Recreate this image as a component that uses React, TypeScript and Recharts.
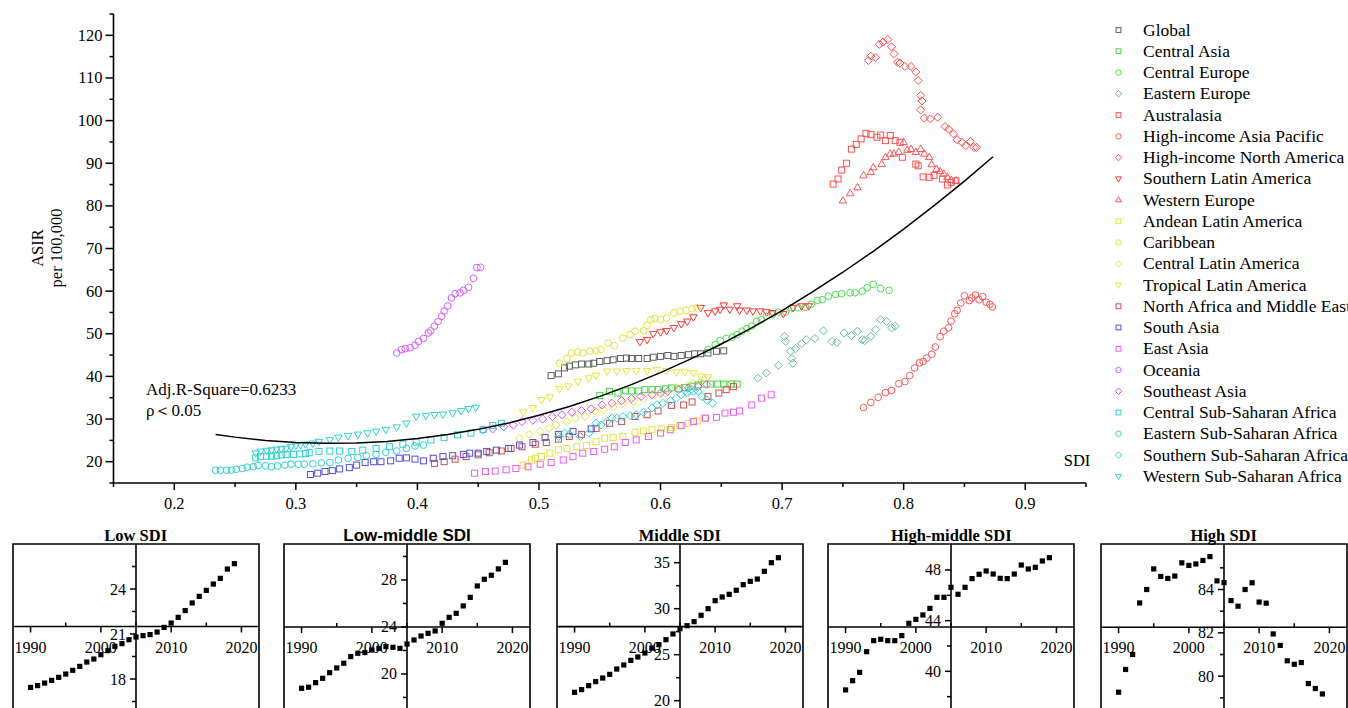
import React from 'react';
import { ScatterChart, Scatter, XAxis, YAxis, ReferenceLine, ReferenceArea } from 'recharts';

type P = [number, number];
const SERIF = '"Liberation Serif", "Times New Roman", Times, serif';
const SANS = '"Liberation Sans", Arial, sans-serif';

// ---------- main chart data (SDI, ASIR per 100,000) ----------
const globalPts: P[] = [[0.510,40.2],[0.516,40.6],[0.521,42.0],[0.525,42.4],[0.530,42.7],[0.535,42.9],[0.541,42.9],[0.545,43.1],[0.550,43.5],[0.556,43.7],[0.561,43.9],[0.567,44.2],[0.572,44.3],[0.576,44.2],[0.582,44.2],[0.589,44.2],[0.594,44.5],[0.600,44.7],[0.606,44.9],[0.611,44.7],[0.617,44.9],[0.623,45.1],[0.628,45.3],[0.633,45.3],[0.639,45.5],[0.646,45.9],[0.652,46.0]];
const centralAsia: P[] = [[0.550,35.5],[0.558,36.5],[0.565,36.1],[0.571,36.6],[0.576,36.6],[0.582,36.6],[0.587,36.9],[0.593,36.9],[0.598,36.9],[0.604,37.1],[0.609,37.3],[0.615,37.1],[0.620,37.4],[0.626,37.7],[0.631,38.0],[0.636,38.2],[0.641,38.2],[0.647,38.2],[0.652,38.2],[0.658,38.2],[0.663,38.2]];
const centralEurope: P[] = [[0.639,46.3],[0.645,47.5],[0.649,48.4],[0.654,48.9],[0.659,49.2],[0.663,49.8],[0.667,50.6],[0.671,51.2],[0.675,51.8],[0.679,52.9],[0.683,53.3],[0.687,54.1],[0.692,54.5],[0.697,55.1],[0.703,55.1],[0.708,56.1],[0.713,56.1],[0.719,56.2],[0.724,56.9],[0.729,57.8],[0.733,58.0],[0.738,58.8],[0.744,59.2],[0.749,59.4],[0.756,59.6],[0.760,59.6],[0.766,60.0],[0.770,60.8],[0.775,61.6],[0.781,60.6],[0.788,60.2]];
const easternEurope: P[] = [[0.680,39.6],[0.687,40.8],[0.697,42.6],[0.702,49.4],[0.703,48.2],[0.707,45.9],[0.709,43.1],[0.708,44.2],[0.711,46.5],[0.716,47.7],[0.720,48.6],[0.727,48.9],[0.734,50.7],[0.741,48.2],[0.745,48.0],[0.751,50.2],[0.757,49.6],[0.762,50.6],[0.766,48.6],[0.768,48.4],[0.773,49.4],[0.777,51.0],[0.781,53.3],[0.786,52.9],[0.790,51.4],[0.793,51.8]];
const australasia: P[] = [[0.742,85.1],[0.746,86.3],[0.749,88.4],[0.753,90.0],[0.757,93.3],[0.761,94.4],[0.765,95.7],[0.769,97.0],[0.773,96.7],[0.778,96.1],[0.781,96.6],[0.785,95.3],[0.789,96.5],[0.793,95.3],[0.797,94.9],[0.799,91.4],[0.810,89.8],[0.812,89.4],[0.816,86.8],[0.821,86.7],[0.825,87.1],[0.832,86.3],[0.836,84.9],[0.839,85.5],[0.843,85.9]];
const hiAsiaPacific: P[] = [[0.767,32.7],[0.773,33.9],[0.779,35.1],[0.785,36.2],[0.790,36.7],[0.796,38.3],[0.801,38.8],[0.805,40.2],[0.809,42.0],[0.813,43.2],[0.816,43.5],[0.819,44.3],[0.823,45.2],[0.826,46.9],[0.830,49.3],[0.833,50.6],[0.837,51.4],[0.839,53.0],[0.842,54.7],[0.844,55.5],[0.847,57.2],[0.850,58.9],[0.854,57.8],[0.856,58.4],[0.859,59.1],[0.862,58.0],[0.865,58.7],[0.868,57.4],[0.871,56.9],[0.873,56.3]];
const hiNorthAmerica: P[] = [[0.771,114.1],[0.773,115.1],[0.777,114.8],[0.780,117.9],[0.783,118.4],[0.787,119.0],[0.790,117.3],[0.792,115.7],[0.795,113.7],[0.797,113.5],[0.801,112.7],[0.806,112.7],[0.810,111.4],[0.812,109.4],[0.814,105.9],[0.815,104.6],[0.814,102.5],[0.817,100.6],[0.822,100.4],[0.828,100.8],[0.834,98.6],[0.837,98.0],[0.841,96.9],[0.844,95.5],[0.848,94.9],[0.851,94.1],[0.855,95.1],[0.858,93.7],[0.860,93.7]];
const southernLatAm: P[] = [[0.583,48.1],[0.589,48.6],[0.594,50.0],[0.600,50.4],[0.605,50.7],[0.611,51.4],[0.617,52.3],[0.622,52.9],[0.627,53.9],[0.633,56.1],[0.639,54.9],[0.645,55.3],[0.649,55.7],[0.652,56.7],[0.657,55.7],[0.663,56.5],[0.665,55.5],[0.671,55.5],[0.676,55.3],[0.682,55.3],[0.687,55.1],[0.692,54.9],[0.701,54.7],[0.709,56.1],[0.716,56.5],[0.722,56.5]];
const westernEurope: P[] = [[0.750,81.2],[0.756,82.9],[0.762,84.3],[0.767,87.1],[0.773,87.9],[0.775,89.0],[0.782,89.8],[0.785,91.4],[0.789,92.2],[0.792,92.2],[0.796,92.6],[0.800,94.9],[0.803,93.1],[0.806,93.3],[0.810,92.6],[0.814,93.3],[0.817,92.2],[0.821,91.4],[0.823,89.7],[0.827,88.6],[0.830,88.1],[0.833,87.5],[0.836,86.7],[0.839,86.0],[0.843,85.9]];
const andeanLatAm: P[] = [[0.487,19.2],[0.494,20.4],[0.497,20.8],[0.502,21.2],[0.509,22.0],[0.516,22.8],[0.523,23.1],[0.531,23.5],[0.539,23.8],[0.547,24.7],[0.554,25.5],[0.561,25.7],[0.569,25.9],[0.579,26.9],[0.586,27.2],[0.593,27.5],[0.601,27.7],[0.609,28.0],[0.616,28.4],[0.623,29.0],[0.630,29.6],[0.636,30.2]];
const caribbean: P[] = [[0.517,43.1],[0.523,44.2],[0.527,45.5],[0.532,45.7],[0.536,45.5],[0.542,45.9],[0.547,46.0],[0.551,46.3],[0.557,47.8],[0.562,47.2],[0.569,49.0],[0.575,49.8],[0.579,50.6],[0.586,50.7],[0.589,52.0],[0.592,53.3],[0.595,53.6],[0.600,53.3],[0.605,53.7],[0.611,54.9],[0.616,55.3],[0.621,55.5],[0.626,55.9],[0.630,56.1]];
const centralLatAm: P[] = [[0.484,25.5],[0.492,26.4],[0.501,27.1],[0.508,27.8],[0.514,28.6],[0.523,29.4],[0.530,30.2],[0.538,30.6],[0.546,31.9],[0.553,32.2],[0.561,32.9],[0.569,33.7],[0.578,34.1],[0.586,34.9],[0.595,35.7],[0.604,36.1],[0.613,37.3],[0.622,37.7],[0.627,38.4],[0.633,38.8]];
const tropicalLatAm: P[] = [[0.487,31.6],[0.495,32.6],[0.502,34.5],[0.509,35.1],[0.517,37.1],[0.524,37.7],[0.532,38.8],[0.541,39.6],[0.547,40.2],[0.556,41.2],[0.564,41.2],[0.572,41.3],[0.580,41.3],[0.589,41.3],[0.597,41.6],[0.605,41.3],[0.613,41.0],[0.620,41.0],[0.627,40.8],[0.633,40.0],[0.639,39.8]];
const northAfricaME: P[] = [[0.414,19.6],[0.422,20.0],[0.431,20.6],[0.440,21.2],[0.450,21.6],[0.459,22.1],[0.469,22.5],[0.477,23.1],[0.486,23.5],[0.497,24.1],[0.506,24.5],[0.516,25.3],[0.525,25.9],[0.535,26.4],[0.547,27.8],[0.558,29.0],[0.568,29.4],[0.579,30.6],[0.589,31.0],[0.598,31.9],[0.609,33.2],[0.619,33.3],[0.626,34.0],[0.639,35.3],[0.648,36.1],[0.654,36.9],[0.660,37.6]];
const southAsia: P[] = [[0.312,17.0],[0.318,17.3],[0.324,17.7],[0.330,17.9],[0.336,18.3],[0.344,18.6],[0.350,19.2],[0.357,19.8],[0.364,20.0],[0.370,20.0],[0.378,20.2],[0.385,20.8],[0.391,20.9],[0.398,20.6],[0.405,20.2],[0.413,20.8],[0.421,21.2],[0.429,21.4],[0.438,21.7],[0.443,22.0],[0.450,22.0],[0.457,22.4],[0.465,22.7],[0.475,23.1],[0.484,23.9],[0.495,24.5],[0.505,25.7],[0.516,26.4],[0.528,27.1],[0.543,27.7]];
const eastAsia: P[] = [[0.447,17.3],[0.456,17.7],[0.464,17.8],[0.473,18.1],[0.481,18.4],[0.491,18.8],[0.501,19.4],[0.510,19.8],[0.520,20.4],[0.528,21.2],[0.536,22.0],[0.545,22.4],[0.554,22.9],[0.562,23.5],[0.571,24.5],[0.580,25.1],[0.590,25.9],[0.600,26.7],[0.608,27.5],[0.617,28.5],[0.627,29.4],[0.637,30.2],[0.646,30.4],[0.653,31.4],[0.660,31.6],[0.665,31.9],[0.675,33.3],[0.683,34.9],[0.691,35.7]];
const oceania: P[] = [[0.383,45.5],[0.387,46.3],[0.390,46.5],[0.394,46.7],[0.398,47.3],[0.401,48.2],[0.405,48.9],[0.409,50.2],[0.411,50.7],[0.414,51.8],[0.417,52.9],[0.420,54.1],[0.422,55.3],[0.425,56.5],[0.428,58.4],[0.431,59.4],[0.435,59.6],[0.438,60.2],[0.442,60.9],[0.446,63.0],[0.449,65.5],[0.452,65.6]];
const southeastAsia: P[] = [[0.454,27.5],[0.462,27.7],[0.471,28.2],[0.479,28.6],[0.486,29.4],[0.495,29.7],[0.503,30.0],[0.511,30.6],[0.519,31.0],[0.527,31.6],[0.535,32.0],[0.543,32.4],[0.552,33.3],[0.560,33.7],[0.568,34.3],[0.576,34.8],[0.584,35.3],[0.593,35.7],[0.600,36.1],[0.606,36.5],[0.615,36.9],[0.623,37.3],[0.631,37.7],[0.638,38.1]];
const centralSSA: P[] = [[0.267,20.9],[0.271,21.2],[0.276,21.3],[0.280,21.3],[0.284,21.4],[0.288,21.6],[0.292,21.7],[0.298,21.7],[0.303,21.8],[0.308,21.9],[0.311,22.1],[0.319,22.4],[0.328,22.5],[0.336,22.5],[0.346,22.4],[0.355,22.7],[0.366,23.1],[0.377,23.5],[0.388,24.1],[0.399,24.6],[0.411,25.1],[0.422,25.7],[0.433,26.3],[0.444,26.7],[0.454,27.5],[0.462,28.5],[0.469,29.0]];
const easternSSA: P[] = [[0.234,18.0],[0.238,18.0],[0.243,18.0],[0.247,18.0],[0.251,18.2],[0.256,18.4],[0.260,18.7],[0.265,18.8],[0.269,19.1],[0.275,19.0],[0.280,18.8],[0.285,19.0],[0.291,19.2],[0.296,19.4],[0.302,19.4],[0.307,19.4],[0.314,19.5],[0.321,19.7],[0.328,19.8],[0.335,20.4],[0.343,20.8],[0.351,21.0],[0.358,21.4],[0.366,21.7],[0.374,22.2],[0.383,22.5],[0.391,23.1],[0.398,23.7],[0.405,23.9]];
const southernSSA: P[] = [[0.516,25.9],[0.521,26.7],[0.525,26.4],[0.534,25.9],[0.541,26.7],[0.547,29.0],[0.551,28.6],[0.556,29.4],[0.560,30.2],[0.564,30.2],[0.569,30.6],[0.575,30.8],[0.580,31.0],[0.586,31.6],[0.593,32.6],[0.597,33.3],[0.602,33.7],[0.608,34.3],[0.613,34.9],[0.617,35.7],[0.622,36.1],[0.624,36.6],[0.627,36.5],[0.631,36.5],[0.634,35.3],[0.638,34.5],[0.643,33.7]];
const westernSSA: P[] = [[0.267,22.0],[0.271,22.4],[0.276,22.6],[0.280,22.7],[0.284,22.9],[0.288,23.0],[0.292,23.1],[0.296,23.5],[0.300,23.8],[0.304,23.9],[0.308,24.1],[0.314,24.3],[0.319,24.7],[0.328,25.1],[0.335,25.7],[0.343,26.1],[0.351,26.4],[0.359,26.7],[0.366,27.1],[0.374,27.5],[0.383,28.1],[0.391,29.0],[0.399,30.6],[0.407,30.8],[0.414,31.0],[0.421,31.1],[0.429,31.4],[0.436,31.9],[0.442,32.4],[0.448,32.7]];

// fitted curve
const fitCurve: P[] = [[0.234,26.4],[0.25,25.76],[0.275,24.99],[0.30,24.5],[0.325,24.31],[0.35,24.39],[0.375,24.76],[0.40,25.41],[0.425,26.35],[0.45,27.58],[0.475,29.08],[0.50,30.87],[0.525,32.95],[0.55,35.31],[0.575,37.96],[0.60,40.88],[0.625,44.1],[0.65,47.6],[0.675,51.38],[0.70,55.45],[0.725,59.8],[0.75,64.43],[0.775,69.35],[0.80,74.56],[0.825,80.05],[0.85,85.82],[0.8735,91.51]];

const xTicks = [0.15,0.2,0.25,0.3,0.35,0.4,0.45,0.5,0.55,0.6,0.65,0.7,0.75,0.8,0.85,0.9,0.95];
const yTicks = [15,20,25,30,35,40,45,50,55,60,65,70,75,80,85,90,95,100,105,110,115,120,125];

type Kind = 'square' | 'circle' | 'diamond' | 'tdown' | 'tup';
const series: { name: string; kind: Kind; color: string; pts: P[] }[] = [
  { name: 'Global', kind: 'square', color: '#5f5f5f', pts: globalPts },
  { name: 'Central Asia', kind: 'square', color: '#3fd83f', pts: centralAsia },
  { name: 'Central Europe', kind: 'circle', color: '#4fdc4f', pts: centralEurope },
  { name: 'Eastern Europe', kind: 'diamond', color: '#5cbf8a', pts: easternEurope },
  { name: 'Australasia', kind: 'square', color: '#ff5050', pts: australasia },
  { name: 'High-income Asia Pacific', kind: 'circle', color: '#ff5555', pts: hiAsiaPacific },
  { name: 'High-income North America', kind: 'diamond', color: '#ff4848', pts: hiNorthAmerica },
  { name: 'Southern Latin America', kind: 'tdown', color: '#ff3838', pts: southernLatAm },
  { name: 'Western Europe', kind: 'tup', color: '#ff5555', pts: westernEurope },
  { name: 'Andean Latin America', kind: 'square', color: '#e4e43c', pts: andeanLatAm },
  { name: 'Caribbean', kind: 'circle', color: '#e4e43c', pts: caribbean },
  { name: 'Central Latin America', kind: 'diamond', color: '#e4e43c', pts: centralLatAm },
  { name: 'Tropical Latin America', kind: 'tdown', color: '#e4e43c', pts: tropicalLatAm },
  { name: 'North Africa and Middle East', kind: 'square', color: '#c85050', pts: northAfricaME },
  { name: 'South Asia', kind: 'square', color: '#4f4fdc', pts: southAsia },
  { name: 'East Asia', kind: 'square', color: '#ee5cee', pts: eastAsia },
  { name: 'Oceania', kind: 'circle', color: '#d65cff', pts: oceania },
  { name: 'Southeast Asia', kind: 'diamond', color: '#cc4cff', pts: southeastAsia },
  { name: 'Central Sub-Saharan Africa', kind: 'square', color: '#2ed0d0', pts: centralSSA },
  { name: 'Eastern Sub-Saharan Africa', kind: 'circle', color: '#2ed0d0', pts: easternSSA },
  { name: 'Southern Sub-Saharan Africa', kind: 'diamond', color: '#2ed0d0', pts: southernSSA },
  { name: 'Western Sub-Saharan Africa', kind: 'tdown', color: '#2ed0d0', pts: westernSSA },
];

// ---------- small panels (ASIR by year) ----------
const years = [1990,1991,1992,1993,1994,1995,1996,1997,1998,1999,2000,2001,2002,2003,2004,2005,2006,2007,2008,2009,2010,2011,2012,2013,2014,2015,2016,2017,2018,2019];
const lowSDI = [17.44,17.56,17.73,17.91,18.11,18.33,18.58,18.84,19.13,19.33,19.62,19.89,20.18,20.36,20.62,20.8,20.89,20.96,21.13,21.44,21.73,22.11,22.56,23.07,23.51,23.91,24.33,24.71,25.33,25.69];
const lowMiddleSDI = [18.78,18.87,19.26,19.63,20.11,20.51,20.91,21.48,21.76,21.82,22.04,22.18,22.33,22.27,22.18,22.55,22.89,23.23,23.46,23.66,24.31,24.82,25.16,25.79,26.52,27.49,28.06,28.4,28.94,29.5];
const middleSDI = [20.91,21.2,21.63,22.07,22.46,22.86,23.44,23.88,24.38,24.75,25.18,25.72,26.09,26.63,27.25,27.83,28.15,28.59,29.28,30.0,30.87,31.27,31.56,32.0,32.61,32.97,33.22,34.06,35.0,35.54];
const highMiddleSDI = [38.53,39.26,39.92,41.55,42.42,42.53,42.42,42.42,42.82,43.79,44.1,44.45,44.97,45.84,45.84,46.63,46.08,46.63,47.32,47.66,47.92,47.68,47.34,47.32,47.68,48.39,48.08,48.21,48.71,48.97];
const highSDI = [79.26,80.31,81.0,83.38,84.0,84.95,84.6,84.51,84.62,85.23,85.11,85.18,85.34,85.52,84.4,84.32,83.49,83.23,84.0,84.31,83.42,83.37,81.95,81.42,80.71,80.55,80.63,79.66,79.43,79.18];
const yearTicks = [1990,1995,2000,2005,2010,2015,2020];

function Marker({ kind, cx, cy, color, s }: { kind: Kind; cx: number; cy: number; color: string; s: number }) {
  const common = { fill: 'none', stroke: color, strokeWidth: 1 };
  if (kind === 'square') return <rect x={cx - s} y={cy - s} width={2 * s} height={2 * s} {...common} />;
  if (kind === 'circle') return <circle cx={cx} cy={cy} r={s * 1.12} {...common} />;
  if (kind === 'diamond') {
    const d = s * 1.35;
    return <polygon points={`${cx},${cy - d} ${cx + d},${cy} ${cx},${cy + d} ${cx - d},${cy}`} {...common} />;
  }
  const h = s * 1.25;
  if (kind === 'tdown')
    return <polygon points={`${cx - h},${cy - h * 0.62} ${cx + h},${cy - h * 0.62} ${cx},${cy + h * 1.1}`} {...common} />;
  return <polygon points={`${cx - h},${cy + h * 0.62} ${cx + h},${cy + h * 0.62} ${cx},${cy - h * 1.1}`} {...common} />;
}

const MainXTick = (props: any) => {
  const { x, y, payload } = props;
  const v = payload.value as number;
  const major = Math.abs(v * 10 - Math.round(v * 10)) < 1e-6;
  return (
    <g>
      <line x1={x} x2={x} y1={y} y2={y + (major ? 7 : 4)} stroke="#000" strokeWidth={1.5} />
      {major && (
        <text x={x} y={y + 26} textAnchor="middle" fontFamily={SERIF} fontSize={16.5} fill="#000">
          {v.toFixed(1)}
        </text>
      )}
    </g>
  );
};

const MainYTick = (props: any) => {
  const { x, y, payload } = props;
  const v = payload.value as number;
  const major = v % 10 === 0;
  return (
    <g>
      <line x1={x - (major ? 8 : 4)} x2={x} y1={y} y2={y} stroke="#000" strokeWidth={1.5} />
      {major && v < 125 && (
        <text x={x - 11} y={y + 5.5} textAnchor="end" fontFamily={SERIF} fontSize={16.5} fill="#000">
          {v}
        </text>
      )}
    </g>
  );
};

function MainChart() {
  return (
    <div style={{ position: 'absolute', left: 0, top: 0 }}>
      <ScatterChart width={1348} height={520} margin={{ top: 14, right: 262, bottom: 7, left: 53.5 }}>
        <XAxis type="number" dataKey="x" domain={[0.15, 0.95]} ticks={xTicks} interval={0} allowDataOverflow
          height={30} tickSize={0} tickMargin={0} tickLine={false} tick={MainXTick}
          axisLine={{ stroke: '#000', strokeWidth: 1.6 }} />
        <YAxis type="number" dataKey="y" domain={[15, 125]} ticks={yTicks} interval={0} allowDataOverflow
          width={60} tickSize={0} tickMargin={0} tickLine={false} tick={MainYTick}
          axisLine={{ stroke: '#000', strokeWidth: 1.6 }} />
        {series.map((s) => (
          <Scatter key={s.name} name={s.name} data={s.pts.map(([x, y]) => ({ x, y }))} isAnimationActive={false}
            shape={(p: any) => <Marker kind={s.kind} cx={p.cx} cy={p.cy} color={s.color} s={3} />} />
        ))}
        <Scatter name="fit" data={fitCurve.map(([x, y]) => ({ x, y }))} isAnimationActive={false}
          line={{ stroke: '#000', strokeWidth: 1.5 }} lineType="joint" shape={() => <g />} />
      </ScatterChart>
    </div>
  );
}

type PanelProps = {
  left: number; values: number[]; domain: [number, number]; ppu: number; cross: number;
  majors: number[]; minors: number[];
};

function Panel({ left, values, domain, ppu, cross, majors, minors }: PanelProps) {
  const W = 246;
  const H = (domain[1] - domain[0]) * ppu;
  const plotTop = 4;
  const plotLeft = 2;
  const crossY = plotTop + (domain[1] - cross) * ppu;
  const crossX = plotLeft + ((2005 - 1987.5) / 35) * W;
  const data = years.map((yr, i) => ({ x: yr, y: values[i] }));
  const XT = (p: any) => {
    const v = p.payload.value as number;
    const major = v % 10 === 0;
    return (
      <g>
        {major ? (
          <line x1={p.x} x2={p.x} y1={crossY} y2={crossY + 6} stroke="#000" strokeWidth={1.5} />
        ) : (
          <line x1={p.x} x2={p.x} y1={crossY} y2={crossY - 4} stroke="#000" strokeWidth={1.5} />
        )}
        {major && (
          <text x={p.x} y={crossY + 26} textAnchor="middle" fontFamily={SERIF} fontSize={16} fill="#000">{v}</text>
        )}
      </g>
    );
  };
  const YT = (p: any) => {
    const v = p.payload.value as number;
    const major = majors.includes(v);
    return (
      <g>
        <line x1={crossX - (major ? 6 : 4)} x2={crossX} y1={p.y} y2={p.y} stroke="#000" strokeWidth={1.5} />
        {major && (
          <text x={crossX - 10} y={p.y + 5.5} textAnchor="end" fontFamily={SERIF} fontSize={16} fill="#000">{v}</text>
        )}
      </g>
    );
  };
  return (
    <div style={{ position: 'absolute', left: left - plotLeft, top: 544 - plotTop }}>
      <ScatterChart width={W + plotLeft + 2} height={H + plotTop + 2} margin={{ top: 3, left: 1, right: 2, bottom: 2 }}>
        <XAxis type="number" dataKey="x" orientation="top" domain={[1987.5, 2022.5]} ticks={yearTicks} interval={0}
          allowDataOverflow height={1} axisLine={false} tickLine={false} tickSize={0} tickMargin={0} tick={XT} />
        <YAxis type="number" dataKey="y" domain={domain} ticks={[...majors, ...minors]} interval={0}
          allowDataOverflow width={1} axisLine={false} tickLine={false} tickSize={0} tickMargin={0} tick={YT} />
        <ReferenceArea x1={1987.5} x2={2022.5} y1={domain[0]} y2={domain[1]} fill="none" fillOpacity={0}
          stroke="#000" strokeWidth={1.6} ifOverflow="visible" />
        <ReferenceLine y={cross} stroke="#000" strokeWidth={1.6} />
        <ReferenceLine x={2005} stroke="#000" strokeWidth={1.6} />
        <Scatter data={data} isAnimationActive={false}
          shape={(p: any) => <rect x={p.cx - 2.6} y={p.cy - 2.6} width={5.2} height={5.2} fill="#000" />} />
      </ScatterChart>
    </div>
  );
}

const panels = [
  { title: 'Low SDI', font: SERIF, left: 12.7, values: lowSDI, domain: [15, 27] as [number, number], ppu: 15, cross: 21.5, majors: [18, 21, 24], minors: [16.5, 19.5, 22.5, 25.5] },
  { title: 'Low-middle SDI', font: SANS, left: 284.1, values: lowMiddleSDI, domain: [16, 31.06] as [number, number], ppu: 11.75, cross: 24, majors: [20, 24, 28], minors: [18, 22, 26, 30] },
  { title: 'Middle SDI', font: SERIF, left: 556.8, values: middleSDI, domain: [17, 37.03] as [number, number], ppu: 9.2, cross: 28.05, majors: [20, 25, 30, 35], minors: [22.5, 27.5, 32.5] },
  { title: 'High-middle SDI', font: SERIF, left: 828.3, values: highMiddleSDI, domain: [36, 50.05] as [number, number], ppu: 12.67, cross: 43.5, majors: [40, 44, 48], minors: [38, 42, 46] },
  { title: 'High SDI', font: SERIF, left: 1100.7, values: highSDI, domain: [78, 86.1] as [number, number], ppu: 21.67, cross: 82.26, majors: [80, 82, 84], minors: [79, 81, 83, 85] },
];

function Overlay() {
  return (
    <svg width={1348} height={708} style={{ position: 'absolute', left: 0, top: 0, pointerEvents: 'none' }}>
      <g fontFamily={SERIF} fontSize={16.5} fill="#000">
        <text transform="rotate(-90)" x={-248} y={43} textAnchor="middle">ASIR</text>
        <text transform="rotate(-90)" x={-248} y={62} textAnchor="middle">per 100,000</text>
        <text x={1077} y={466} textAnchor="middle">SDI</text>
        <text x={146} y={395} fontSize={17}>Adj.R-Square=0.6233</text>
        <text x={146} y={416} fontSize={17}>ρ＜0.05</text>
      </g>
      {series.map((s, i) => {
        const y = 30 + i * 21.25;
        return (
          <g key={s.name}>
            <Marker kind={s.kind} cx={1118.5} cy={y} color={s.color} s={2.4} />
            <text x={1143} y={y + 5.5} fontFamily={SERIF} fontSize={17.5} fill="#000">{s.name}</text>
          </g>
        );
      })}
      {panels.map((p) => (
        <text key={p.title} x={p.left + 123} y={541} textAnchor="middle" fontFamily={p.font}
          fontWeight="bold" fontSize={p.font === SANS ? 17 : 16.5} fill="#000">{p.title}</text>
      ))}
    </svg>
  );
}

export default function App() {
  return (
    <div style={{ position: 'fixed', left: 0, top: 0, width: 1348, height: 708, overflow: 'hidden', background: '#fff' }}>
      <MainChart />
      {panels.map((p) => (
        <Panel key={p.title} left={p.left} values={p.values} domain={p.domain} ppu={p.ppu} cross={p.cross}
          majors={p.majors} minors={p.minors} />
      ))}
      <Overlay />
    </div>
  );
}
